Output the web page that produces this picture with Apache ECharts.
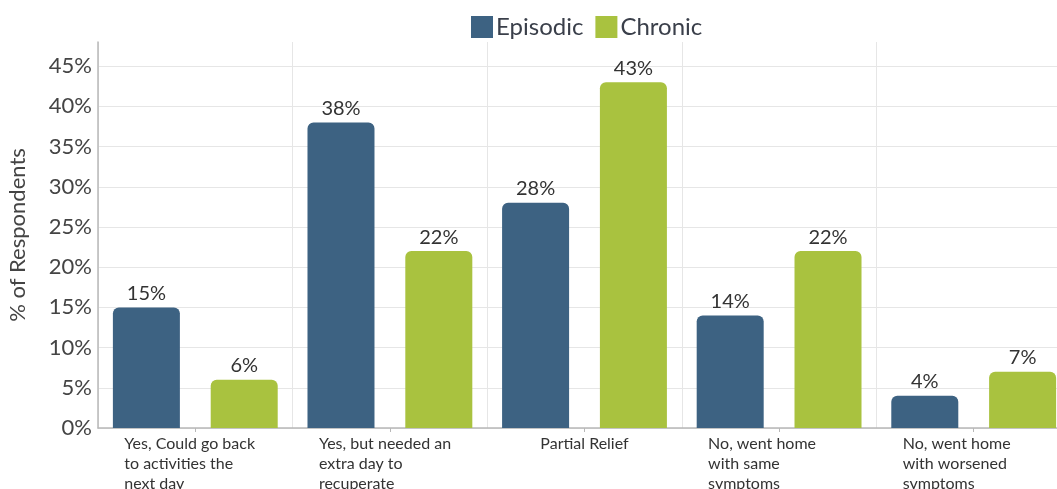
<!DOCTYPE html>
<html>
<head>
<meta charset="utf-8">
<script src="https://cdn.jsdelivr.net/npm/echarts@6/dist/echarts.min.js"></script>
<style>
  html, body { margin: 0; padding: 0; background: #fff; }
  #main { width: 1057px; height: 489px; }
</style>
</head>
<body>
<div id="main"></div>
<script>
var categories = [
    'Yes, Could go back\nto activities the\nnext day',
    'Yes, but needed an\nextra day to\nrecuperate',
    'Partial Relief',
    'No, went home\nwith same\nsymptoms',
    'No, went home\nwith worsened\nsymptoms'
];
var episodic = [15, 38, 28, 14, 4];
var chronic = [6, 22, 43, 22, 7];
var seriesNames = ['Episodic', 'Chronic'];

var font = 'Lato, "Open Sans", sans-serif';

var chart = echarts.init(document.getElementById('main'));

function barLabel() {
    return {
        show: true,
        position: 'top',
        distance: 4,
        formatter: '{c}%',
        color: '#333',
        fontSize: 20,
        fontFamily: font
    };
}

var option = {
    animation: false,
    legend: {
        data: seriesNames,
        left: 466,
        top: 10,
        itemWidth: 22,
        itemHeight: 22,
        itemGap: 12,
        icon: 'rect',
        textStyle: { fontSize: 24, color: '#3a3f4a', fontFamily: font, padding: [0, 0, 0, -2] }
    },
    grid: { left: 98, top: 42, width: 973, bottom: 61, outerBoundsMode: 'none', containLabel: false },
    xAxis: {
        type: 'category',
        data: categories,
        axisLine: { lineStyle: { color: '#b8b8b8', width: 1.5 } },
        axisTick: { show: true, alignWithLabel: true, length: 4, lineStyle: { color: '#b8b8b8' } },
        splitLine: { show: true, lineStyle: { color: '#e6e6e6' } },
        axisLabel: {
            interval: 0,
            margin: 6,
            formatter: function (v) {
                var lines = v.split('\n');
                if (lines.length === 1) return '{c|' + v + '}';
                return lines.map(function (l) { return '{l|' + l + '}'; }).join('\n');
            },
            rich: {
                l: { width: 142, align: 'left', fontSize: 16, lineHeight: 20, color: '#333', fontFamily: font },
                c: { align: 'center', fontSize: 16, lineHeight: 20, color: '#333', fontFamily: font }
            }
        }
    },
    yAxis: {
        type: 'value',
        min: 0,
        max: 48,
        interval: 5,
        name: '% of Respondents',
        nameLocation: 'middle',
        nameGap: 69,
        nameTextStyle: { fontSize: 22, color: '#444', fontFamily: font },
        axisLine: { show: true, lineStyle: { color: '#b8b8b8', width: 1.5 } },
        axisTick: { show: false },
        splitLine: {
            show: true,
            lineStyle: {
                color: ['#e6e6e6', '#e6e6e6', '#e6e6e6', '#e6e6e6', '#e6e6e6', '#e6e6e6',
                        '#e6e6e6', '#e6e6e6', '#e6e6e6', '#e6e6e6', 'rgba(0,0,0,0)']
            }
        },
        axisLabel: {
            margin: 6,
            fontSize: 22,
            color: '#444',
            fontFamily: font,
            formatter: function (v) { return v % 5 === 0 ? v + '%' : ''; }
        }
    },
    series: [
        {
            name: seriesNames[0],
            type: 'bar',
            data: episodic,
            barWidth: 67,
            barGap: '46%',
            itemStyle: { color: '#3d6282', borderRadius: [6, 6, 0, 0] },
            label: barLabel()
        },
        {
            name: seriesNames[1],
            type: 'bar',
            data: chronic,
            barWidth: 67,
            itemStyle: { color: '#a9c23f', borderRadius: [6, 6, 0, 0] },
            label: barLabel()
        }
    ]
};
chart.setOption(option);
</script>
</body>
</html>
